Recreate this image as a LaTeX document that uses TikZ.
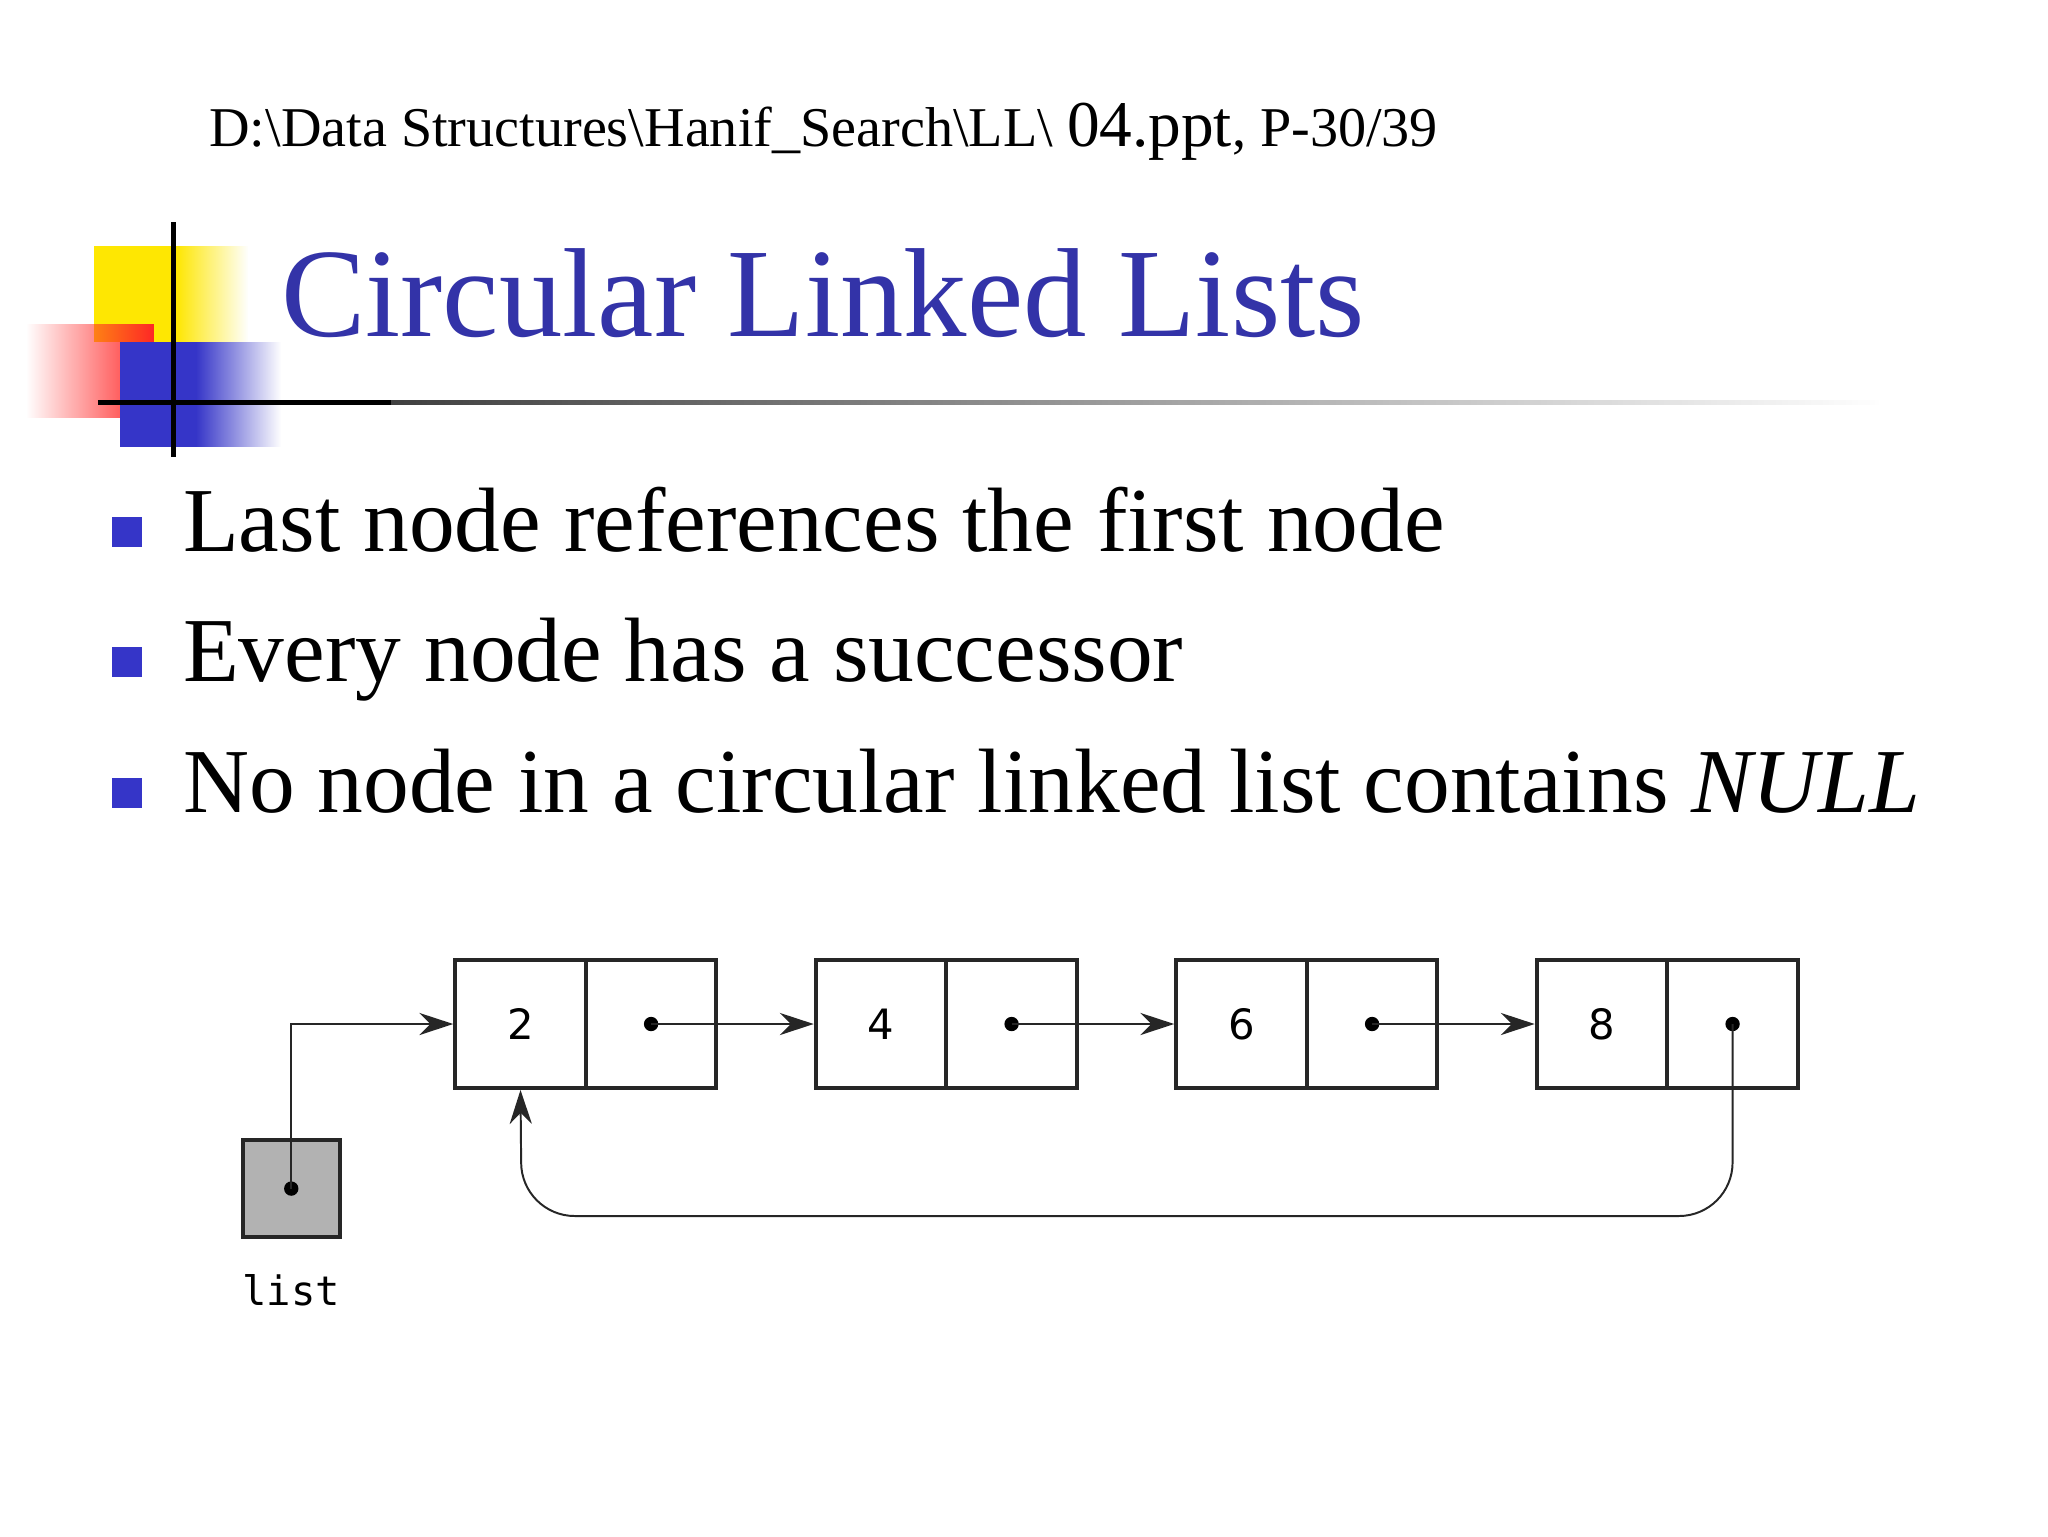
\documentclass[tikz,border=0pt]{standalone}
\usepackage{fontspec}
\setmainfont{Liberation Serif}
\newfontfamily\dejasans{DejaVu Sans}
\newfontfamily\dejamono{DejaVu Sans Mono}
\usetikzlibrary{arrows.meta,fadings}
\definecolor{ttlblue}{HTML}{3333A8}
\definecolor{bulblue}{HTML}{3535C8}
\tikzset{
 cell/.style={draw=black!85,line width=3pt,minimum width=100pt,minimum height=98pt,inner sep=0pt,font=\dejasans\fontsize{32}{36}\selectfont},
 ptr/.style={-{Stealth[length=26pt,width=17pt]},line width=1.5pt,black!85},
 dotc/.style={circle,fill=black,inner sep=0pt,minimum size=11pt},
 bul/.style={fill=bulblue,minimum size=23pt,inner sep=0pt},
 btxt/.style={anchor=base west,inner sep=0pt,font=\fontsize{70}{80}\selectfont}
}
\begin{document}
\begin{tikzpicture}[x=1pt,y=-1pt]
\useasboundingbox[fill=white] (0,0) rectangle (1568,1176);
% header
\node[anchor=base west,inner sep=0pt] (hdr) at (160,112) {\fontsize{43}{46}\selectfont D:\textbackslash Data Structures\textbackslash Hanif\_Search\textbackslash LL\textbackslash\ {\fontsize{50}{52}\selectfont 04.ppt}, P-30/39};
% logo
\fill[yellow!90!orange] (72,188) rectangle (135,262);
\fill[yellow!90!orange,path fading=east] (135,188) rectangle (190,262);
\fill[red!85,path fading=west] (20,248) rectangle (118,320);
\fill[bulblue] (92,262) rectangle (150,342);
\fill[bulblue,path fading=east] (150,262) rectangle (215,342);
\draw[line width=4pt] (133,170) -- (133,350);
\draw[line width=4pt] (75,308) -- (300,308);
\fill[black!75,path fading=east] (300,306) rectangle (1440,310);
% title
\node[anchor=base west,inner sep=0pt,text=ttlblue] (ttl) at (215,258) {\fontsize{97}{104}\selectfont Circular Linked Lists};
% bullets
\node[bul] (b1) at (97,407) {};
\node[btxt] (t1) at (140,422) {Last node references the first node};
\node[bul] (b2) at (97,507) {};
\node[btxt] (t2) at (140,522) {Every node has a successor};
\node[bul] (b3) at (97,607) {};
\node[btxt] (t3) at (140,622) {No node in a circular linked list contains \textit{NULL}};
% list cells
\foreach \i/\x/\v in {1/398.5/2,2/674.5/4,3/950.5/6,4/1226.5/8}{
  \node[cell] (d\i) at (\x,784) {\v};
  \node[cell,anchor=west] (p\i) at ([xshift=-3pt]d\i.east) {};
  \node[dotc] (c\i) at (p\i.center) {};
}
\draw[ptr] (c1.center) -- (d2.west);
\draw[ptr] (c2.center) -- (d3.west);
\draw[ptr] (c3.center) -- (d4.west);
\node[draw=black!85,fill=black!30,line width=3pt,minimum size=74pt,inner sep=0pt] (lst) at (223,910) {};
\node[dotc] (lc) at (lst.center) {};
\node[font=\dejamono\fontsize{31}{34}\selectfont] (lbl) at (223,988) {list};
\draw[ptr] (lc.center) -- (223,784) -- (d1.west);
\coordinate (rc) at (c4.center |- 0,890);
\draw[ptr] (c4.center) -- (rc) arc[start angle=0,end angle=90,radius=41] -- (440,931) arc[start angle=90,end angle=180,radius=41] -- (d1.south);
\end{tikzpicture}
\end{document}
